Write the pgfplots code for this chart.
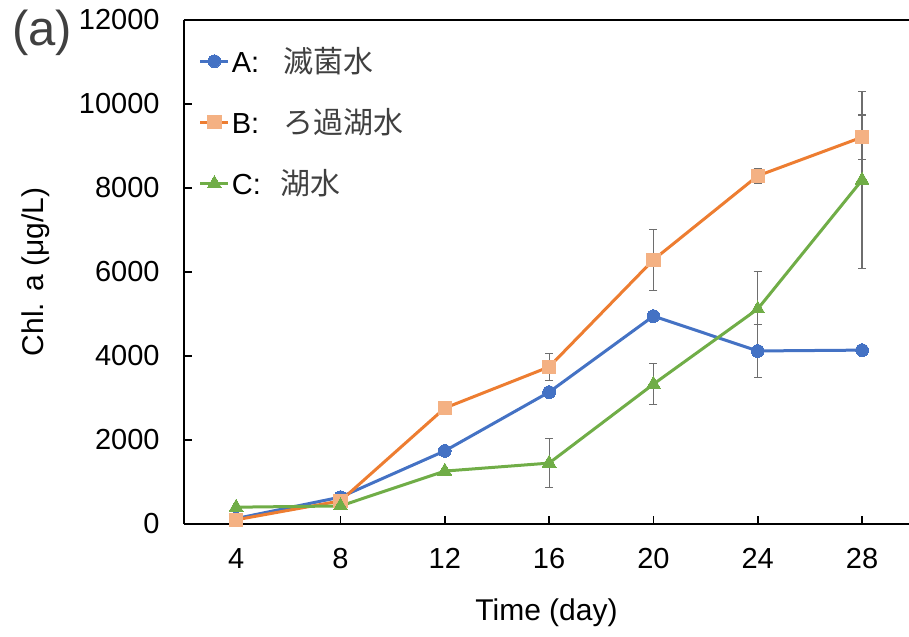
\documentclass[border=0pt]{standalone}
\usepackage{pgfplots}
\pgfplotsset{compat=1.18}
\usepackage{pgfplotstable}
\usepackage{fontspec}
\setmainfont{Liberation Sans}
\newfontfamily\cjk{Noto Sans CJK JP}
\definecolor{cA}{HTML}{4472C4}
\definecolor{cB}{HTML}{ED7D31}
\definecolor{cBl}{HTML}{F4B183}
\definecolor{cC}{HTML}{70AD47}
\definecolor{errgray}{HTML}{6E6E6E}
\definecolor{txtgray}{HTML}{404040}

\pgfplotstableread{
x y e
4 130 0
8 640 0
12 1740 0
16 3140 0
20 4950 0
24 4120 630
28 4140 0
}\dataA
\pgfplotstableread{
x y e
4 100 0
8 550 0
12 2760 0
16 3740 320
20 6290 725
24 8290 175
28 9210 530
}\dataB
\pgfplotstableread{
x y e
4 400 0
8 430 0
12 1260 0
16 1450 590
20 3330 490
24 5120 900
28 8190 2100
}\dataC

\begin{document}
\begin{tikzpicture}
\begin{axis}[
  scale only axis, width=362.5bp, height=252bp,
  at={(0,0)}, anchor=south west,
  xmin=2, xmax=29.8, ymin=0, ymax=12000,
  xtick={4,8,12,16,20,24,28},
  ytick={0,2000,4000,6000,8000,10000,12000},
  axis lines*=left,
  tick align=inside,
  major tick length=3.8bp,
  tick style={black, line width=0.8bp},
  axis line style={black, line width=0.9bp},
  scaled y ticks=false,
  /pgf/number format/.cd, 1000 sep={}, assume math mode=true, /pgfplots/.cd,
  tick label style={font=\fontsize{14.5bp}{17bp}\selectfont, text=black},
  yticklabel style={inner sep=0pt, xshift=-12bp},
  xticklabel style={inner sep=0pt, yshift=-12bp},
  xlabel={Time (day)},
  ylabel={Chl. a (μg/L)},
  label style={font=\fontsize{15bp}{17bp}\selectfont},
  xlabel style={at={(axis description cs:0.5,-0.177)}, anchor=center},
  ylabel style={at={(axis description cs:-0.204,0.5)}, anchor=center, rotate=0},
  clip=false,
  legend cell align=left,
  legend style={at={(axis description cs:0.02,0.951)}, anchor=north west, draw=none, fill=none,
     font=\fontsize{14.5bp}{16bp}\selectfont, row sep=14.5bp, inner sep=0pt,
     nodes={inner sep=1bp}},
  legend image code/.code={\draw[mark repeat=2,mark phase=2] plot coordinates {(0bp,0bp) (7bp,0bp) (14bp,0bp)};},
]
\addplot[color=cA, line width=1.5bp, mark=*, mark size=3.2bp, mark options={fill=cA, draw=cA, line width=0},
  error bars/.cd, y dir=both, y explicit,
  error bar style={color=errgray, line width=0.6bp},
  error mark options={rotate=90, mark size=2bp, color=errgray, line width=0.6bp}]
  table[x=x, y=y, y error=e]{\dataA};
\addlegendentry{A:\hspace{12bp}{\cjk\color{txtgray}\fontsize{15bp}{16bp}\selectfont 滅菌水}}
\addplot[color=cB, line width=1.5bp, mark=square*, mark size=3.3bp, mark options={fill=cBl, draw=cBl, line width=0},
  error bars/.cd, y dir=both, y explicit,
  error bar style={color=errgray, line width=0.6bp},
  error mark options={rotate=90, mark size=2bp, color=errgray, line width=0.6bp}]
  table[x=x, y=y, y error=e]{\dataB};
\addlegendentry{B:\hspace{12bp}{\cjk\color{txtgray}\fontsize{15bp}{16bp}\selectfont ろ過湖水}}
\addplot[color=cC, line width=1.5bp, mark=triangle*, mark size=4bp, mark options={fill=cC, draw=cC, line width=0},
  error bars/.cd, y dir=both, y explicit,
  error bar style={color=errgray, line width=0.6bp},
  error mark options={rotate=90, mark size=2bp, color=errgray, line width=0.6bp}]
  table[x=x, y=y, y error=e]{\dataC};
\addlegendentry{C:\hspace{10bp}{\cjk\color{txtgray}\fontsize{15bp}{16bp}\selectfont 湖水}}
\draw[black, line width=0.9bp] (rel axis cs:0,1) -- (rel axis cs:1,1);
\end{axis}
\node[text=txtgray, font=\fontsize{24.5bp}{26bp}\selectfont, inner sep=0pt] at (-71bp,245.5bp) {(a)};
\pgfresetboundingbox
\useasboundingbox (-92bp,-56.5bp) rectangle (362.5bp,262bp);
\end{tikzpicture}
\end{document}
